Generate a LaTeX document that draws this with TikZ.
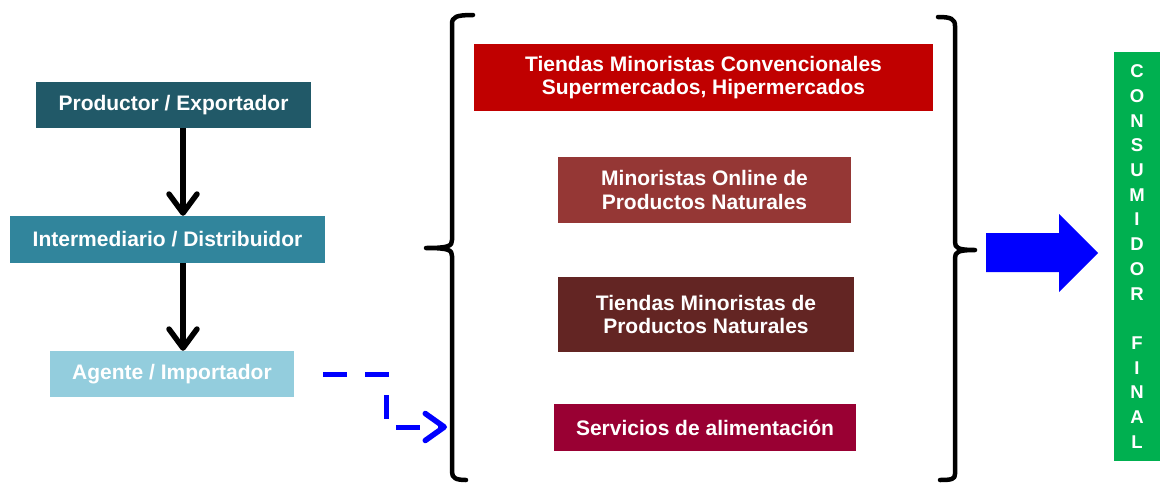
\documentclass[tikz,border=0pt]{standalone}
\usepackage{fontspec}
\setmainfont{Liberation Sans}
\usetikzlibrary{arrows.meta}
\definecolor{cProd}{HTML}{215968}
\definecolor{cInter}{HTML}{31859C}
\definecolor{cAgen}{HTML}{93CDDD}
\definecolor{cConv}{HTML}{C00000}
\definecolor{cOnl}{HTML}{953735}
\definecolor{cTnat}{HTML}{632523}
\definecolor{cServ}{HTML}{990033}
\definecolor{cCons}{HTML}{00B050}
\tikzset{
  box/.style={rectangle, inner sep=0pt, text=white, align=center,
    font=\fontsize{21}{23.5}\selectfont\bfseries},
  flow/.style={line width=5.5pt, -{Straight Barb[length=19pt,width=28pt,line width=5.5pt,round]}},
  brace/.style={line width=4.5pt, line cap=round, line join=round},
  dasharrow/.style={blue, line width=5pt, dash pattern=on 24pt off 18pt,
    -{Straight Barb[length=19pt,width=27pt,line width=5.5pt,round]}}
}
\begin{document}
\begin{tikzpicture}[x=1pt,y=-1pt]
\useasboundingbox (0,0) rectangle (1161,482);
% left chain
\node[box, fill=cProd, minimum width=275pt, minimum height=46pt] (prod) at (173.5,105) {Productor / Exportador};
\node[box, fill=cInter, minimum width=315pt, minimum height=47pt] (inter) at (167.5,239.5) {Intermediario / Distribuidor};
\node[box, fill=cAgen, minimum width=244pt, minimum height=46pt] (agen) at (172,374) {Agente / Importador};
\draw[flow] ([xshift=9.5pt]prod.south) -- ([xshift=15.5pt]inter.north);
\draw[flow] ([xshift=15.5pt]inter.south) -- ([xshift=11pt]agen.north);
% right boxes
\node[box, fill=cConv, minimum width=459pt, minimum height=67pt] (conv) at (703.5,77.5) {Tiendas Minoristas Convencionales\\Supermercados, Hipermercados};
\node[box, fill=cOnl, minimum width=293pt, minimum height=66pt] (onl) at (704.5,190) {Minoristas Online de\\Productos Naturales};
\node[box, fill=cTnat, minimum width=296pt, minimum height=75pt] (tnat) at (706,314.5) {Tiendas Minoristas de\\Productos Naturales};
\node[box, fill=cServ, minimum width=302pt, minimum height=47pt] (serv) at (705,427.5) {Servicios de alimentación};
% braces
\draw[brace] (473,15) .. controls (456,15) and (452,17) .. (452,24) -- (452,240)
  .. controls (452,246) and (449,248) .. (426,248)
  .. controls (449,248) and (452,250) .. (452,256) -- (452,472)
  .. controls (452,478) and (456,480) .. (466,480);
\draw[brace] (938,17) .. controls (951,17) and (955,19) .. (955,26) -- (955,242)
  .. controls (955,248) and (958,250) .. (975,250)
  .. controls (958,250) and (955,252) .. (955,258) -- (955,474)
  .. controls (955,479) and (952,480) .. (940,480);
% consumer
\node[box, fill=cCons, minimum width=46pt, minimum height=409pt,
  font=\fontsize{18.5}{24.7}\selectfont\bfseries] (cons) at (1137,256.5)
  {C\\O\\N\\S\\U\\M\\I\\D\\O\\R\\[24.7pt]F\\I\\N\\A\\L};
% big blue arrow
\fill[blue] (986,233) -- (1059,233) -- (1059,214) -- (1098,253) -- (1059,292) -- (1059,272) -- (986,272) -- cycle;
% dashed arrow
\coordinate (ds) at (323,374);
\coordinate (de) at (447,427);
\draw[dasharrow] (ds) -- (386,374) -- (386,427) -- (de);
\end{tikzpicture}
\end{document}
